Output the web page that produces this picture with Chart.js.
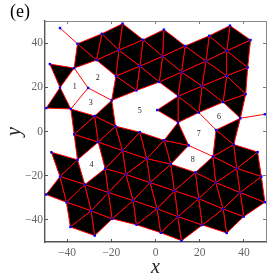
<!DOCTYPE html>
<html>
<head>
<meta charset="utf-8">
<style>
  html, body { margin: 0; padding: 0; background: #fff; }
  canvas { display: block; }
</style>
<script src="https://cdn.jsdelivr.net/npm/chart.js@4"></script>
</head>
<body>
<canvas id="chart" width="270" height="279"></canvas>
<script>
// vertices of the network
const vertexX = [-43.2,-35.3,-24.3,-14.9,-16.6,-26.7,-36.8,-17.9,-5.6,3.8,3.2,-7.1,-8.6,1.7,13.4,11.8,10.3,24.3,22.8,21.1,33.7,32.2,32.2,30.6,43.0,41.7,40.8,38.4,49.5,19.6,10.2,0.8,-47.8,-43.2,-49.4,-38.3,-30.5,-19.8,-27.5,-18.1,-36.8,-25.9,-7.1,-14.9,-47.1,-35.3,-4.0,-22.8,-13.4,-43.2,3.9,15.0,6.9,26.0,27.4,35.4,46.2,18.1,36.8,47.9,-2.4,8.6,27.3,38.3,49.5,19.6,-21.3,-10.1,-32.0,-49.5,-40.3,-29.1,-19.6,-38.5,-27.5,0.7,30.6,10.1,39.9,-8.6,21.2,2.4,32.2,11.8];
const vertexY = [46.8,39.7,44.2,48.8,36.9,32.3,28.7,25.1,41.5,46.1,34.0,29.6,18.6,22.4,38.7,26.9,16.0,43.3,31.9,20.6,47.9,36.5,25.2,13.3,41.4,29.0,16.9,6.0,7.8,8.6,4.1,9.7,30.5,19.9,10.6,10.2,19.7,14.1,7.0,2.4,-1.3,-4.8,-0.3,-8.6,-9.4,-12.8,-12.3,-16.8,-19.4,-20.4,-4.0,-6.3,-14.8,-11.3,0.7,-5.9,-9.3,-18.5,-16.7,-20.4,-23.1,-26.8,-23.1,-27.6,-32.0,-30.4,-27.6,-31.2,-24.0,-28.5,-32.0,-35.9,-39.5,-43.2,-47.1,-34.9,-35.0,-38.5,-38.5,-42.2,-42.3,-45.8,-45.9,-49.4];

// black cells, as vertex indices
const triangles = [
  [1,2,5],[1,5,6],[2,3,4],[2,4,5],[4,5,7],[3,8,4],[4,8,11],[8,10,11],[8,9,10],[9,14,10],
  [4,11,7],[7,11,12],[11,13,12],[11,10,13],[10,15,13],[10,14,15],[14,17,18],[14,18,15],
  [15,18,19],[15,19,16],[13,15,16],[17,20,21],[17,21,18],[20,24,21],[21,24,25],[21,25,22],
  [18,21,22],[18,22,19],[19,22,23],[22,26,23],[22,25,26],[16,19,29],[19,23,29],[23,26,27],
  [16,29,30],[16,31,30],[7,12,37],[37,38,39],[35,38,40],[38,39,41],[38,41,40],[40,41,45],
  [32,6,33],[33,34,35],[39,42,43],[39,43,41],[42,46,43],[41,43,47],[43,48,47],[43,46,48],
  [46,60,48],[46,52,60],[46,50,52],[42,50,46],[30,50,51],[50,51,52],[54,27,55],[54,55,53],
  [55,56,58],[53,55,58],[53,58,62],[53,62,57],[58,59,63],[56,59,58],[58,63,62],[59,64,63],
  [62,63,76],[63,78,76],[63,64,78],[62,76,65],[65,76,80],[76,82,80],[76,78,82],[57,62,65],
  [57,65,61],[52,57,61],[52,61,60],[60,61,75],[61,77,75],[61,65,77],[65,80,77],[77,80,83],
  [77,83,81],[75,77,81],[75,81,79],[60,75,67],[67,75,79],[60,67,48],[48,67,66],[66,67,72],
  [67,79,72],[47,48,66],[68,47,66],[68,66,71],[66,72,71],[71,72,74],[71,74,73],[70,71,73],
  [68,71,70],[49,68,70],[49,45,68],[44,45,49],[69,49,70]
];

// red edges that belong to no black cell
const looseEdges = [[0,1],[27,28],[6,36],[35,36],[37,36],[29,54],[51,53]];

const cellLabels = ['1','2','3','4','5','6','7','8'];
const cellLabelX = [-36.5,-26.1,-29.3,-29,-7.1,28.7,19.6,16.8];
const cellLabelY = [20,24.1,12.8,-15.3,9.5,6.7,-1,-12.8];

const tickValues = [-40,-20,0,20,40];

const SERIF = '"Liberation Serif", serif';

function toPoints(indices) {
  return indices.map(i => ({ x: vertexX[i], y: vertexY[i] }));
}

const datasets = [];

// first dataset is painted last, so the blue points stay on top
datasets.push({
  data: toPoints(vertexX.map((_, i) => i)),
  showLine: false,
  pointStyle: 'rect',
  pointRadius: 1.7,
  pointBackgroundColor: '#0000ff',
  pointBorderWidth: 0
});

looseEdges.forEach(edge => {
  datasets.push({
    data: toPoints(edge),
    showLine: true,
    borderColor: '#ff0000',
    borderWidth: 1,
    pointRadius: 0,
    fill: false
  });
});

triangles.forEach(tri => {
  datasets.push({
    data: toPoints([tri[0], tri[1], tri[2], tri[0]]),
    showLine: true,
    borderColor: '#ff0000',
    borderWidth: 1,
    backgroundColor: '#000000',
    pointRadius: 0,
    fill: 'shape'
  });
});

const textPlugin = {
  id: 'chartTexts',
  afterDatasetsDraw(chart) {
    const { ctx, scales } = chart;
    ctx.save();
    ctx.font = '8px ' + SERIF;
    ctx.fillStyle = '#222';
    ctx.textAlign = 'center';
    ctx.textBaseline = 'middle';
    cellLabels.forEach((text, i) => {
      ctx.fillText(text, scales.x.getPixelForValue(cellLabelX[i]), scales.y.getPixelForValue(cellLabelY[i]));
    });
    // panel letter sits above the axes, right of the chart's left edge
    ctx.font = '18px ' + SERIF;
    ctx.fillStyle = '#000';
    ctx.textAlign = 'left';
    ctx.fillText('(e)', 10, 12);
    ctx.restore();
  }
};

function setTicks(scale) {
  scale.ticks = tickValues.map(v => ({ value: v }));
}

function formatTick(value) {
  return String(value).replace('-', '\u2212');
}

const axisBase = {
  type: 'linear',
  min: -50,
  max: 50,
  afterBuildTicks: setTicks
};

new Chart(document.getElementById('chart'), {
  type: 'scatter',
  data: { datasets: datasets },
  options: {
    responsive: false,
    animation: false,
    events: [],
    layout: { padding: { top: 21, right: 4, bottom: 0, left: 0 } },
    plugins: {
      legend: { display: false },
      tooltip: { enabled: false }
    },
    scales: {
      x: {
        ...axisBase,
        position: 'bottom',
        afterFit(scale) { scale.height = 37; },
        border: { color: '#555', width: 1.4 },
        grid: { drawOnChartArea: false, tickLength: -3, tickColor: '#555' },
        ticks: { color: '#666', padding: 7, maxRotation: 0, font: { family: SERIF, size: 11.5 }, callback: formatTick },
        title: {
          display: true,
          text: 'x',
          color: '#222',
          font: { family: SERIF, size: 20, style: 'italic' },
          padding: { top: 0, bottom: -1 }
        }
      },
      y: {
        ...axisBase,
        position: 'left',
        afterFit(scale) { scale.width = 45; },
        border: { color: '#555', width: 1.4 },
        grid: { drawOnChartArea: false, tickLength: -3, tickColor: '#555' },
        ticks: { color: '#666', padding: 5, font: { family: SERIF, size: 11.5 }, callback: formatTick },
        title: {
          display: true,
          text: 'y',
          color: '#222',
          font: { family: SERIF, size: 20, style: 'italic' },
          padding: { top: 3, bottom: 0 }
        }
      },
      x2: {
        ...axisBase,
        position: 'top',
        afterFit(scale) { scale.height = 0; },
        border: { color: '#888', width: 1 },
        grid: { drawOnChartArea: false, tickLength: -3, tickColor: '#777' },
        ticks: { display: false }
      },
      y2: {
        ...axisBase,
        position: 'right',
        afterFit(scale) { scale.width = 0; },
        border: { color: '#888', width: 1 },
        grid: { drawOnChartArea: false, tickLength: -3, tickColor: '#777' },
        ticks: { display: false }
      }
    }
  },
  plugins: [textPlugin]
});
</script>
</body>
</html>
